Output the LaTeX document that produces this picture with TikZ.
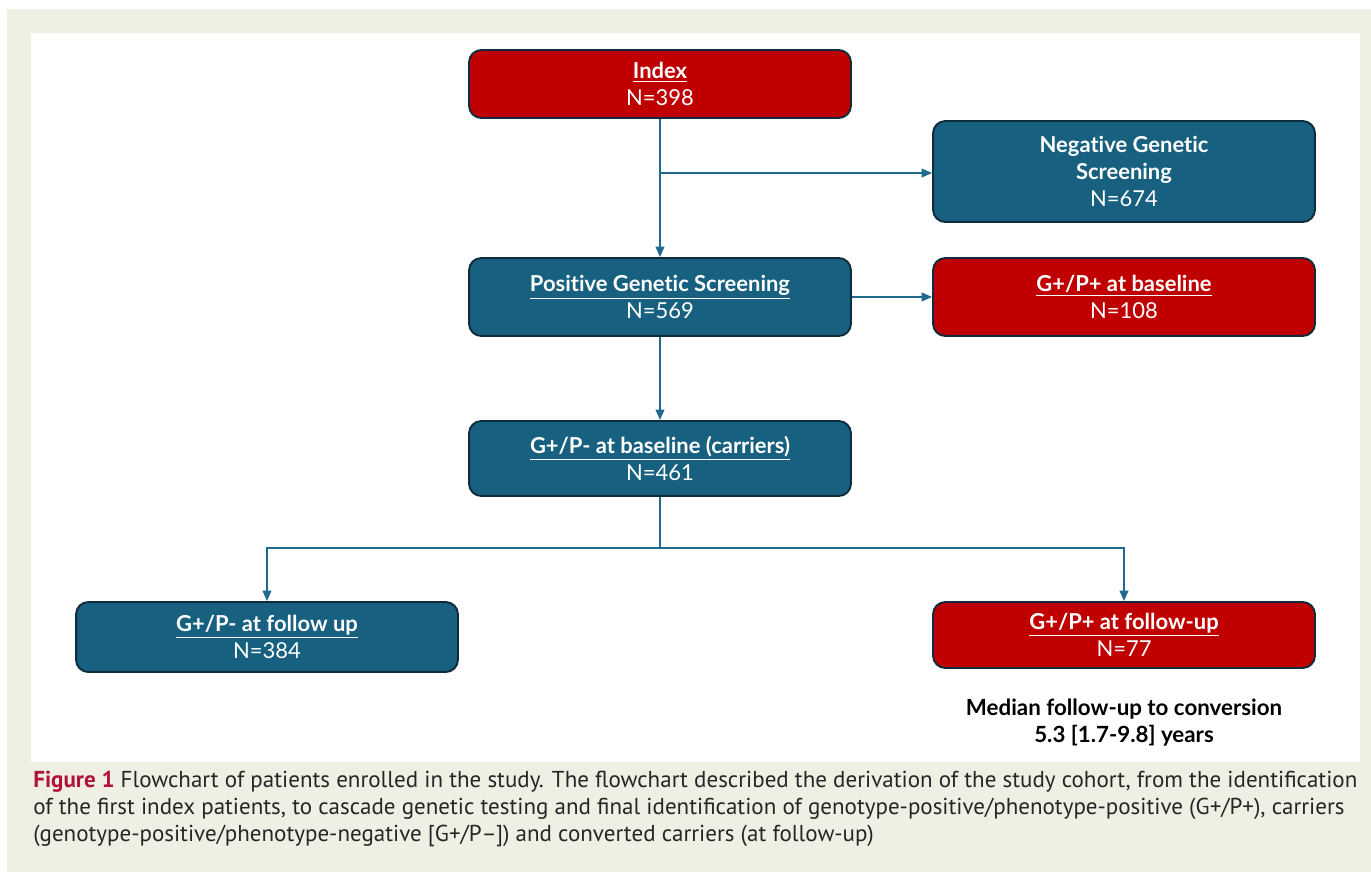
\documentclass[tikz,border=0pt]{standalone}
\usepackage{fontspec}
\setmainfont{Lato}[Ligatures=NoCommon]
\newfontfamily\capfont{PT Sans}
\usetikzlibrary{arrows.meta, positioning}
\definecolor{boxblue}{HTML}{17607F}
\definecolor{boxred}{HTML}{C00000}
\definecolor{boxline}{HTML}{0E2C3C}
\definecolor{linkblue}{HTML}{1F6A8E}
\definecolor{pagebeige}{HTML}{EFEFE3}
\definecolor{figred}{HTML}{B0123A}
\tikzset{
  box/.style={draw=boxline, line width=1.1pt, rounded corners=7pt, text=white,
    minimum width=7.64cm, align=center, font=\fontsize{12.5}{15.4}\selectfont},
  bluebox/.style={box, fill=boxblue},
  redbox/.style={box, fill=boxred},
  link/.style={draw=linkblue, line width=1.1pt, -{Triangle[length=6pt,width=5pt]}},
}
\begin{document}
\begin{tikzpicture}[x=0.02cm, y=-0.02cm]
\useasboundingbox (0,0) rectangle (1371,872);
\fill[pagebeige] (7,9) rectangle (1371,872);
\fill[white] (31,33) rectangle (1360,762);
% boxes
\node[redbox, minimum height=1.36cm] (index) at (660,84) {\textbf{\underline{Index}}\\N=398};
\node[bluebox, minimum height=2.02cm] (neg) at (1124,171.5) {\textbf{Negative Genetic}\\\textbf{Screening}\\N=674};
\node[bluebox, minimum height=1.56cm] (pos) at (660,297) {\textbf{\underline{Positive Genetic Screening}}\\N=569};
\node[redbox, minimum height=1.56cm] (basepos) at (1124,297) {\textbf{\underline{G+/P+ at baseline}}\\N=108};
\node[bluebox, minimum height=1.5cm] (carrier) at (660,458.5) {\textbf{\underline{G+/P- at baseline (carriers)}}\\N=461};
\node[bluebox, minimum height=1.4cm] (fupneg) at (267,637) {\textbf{\underline{G+/P- at follow up}}\\N=384};
\node[redbox, minimum height=1.32cm] (fuppos) at (1124,635) {\textbf{\underline{G+/P+ at follow-up}}\\N=77};
\node[align=center, font=\fontsize{12.7}{15.4}\selectfont\bfseries] (median) at (1124,723)
  {Median follow-up to conversion\\5.3 [1.7-9.8] years};
% connectors
\coordinate (split) at (660,173);
\coordinate (fork) at (660,548);
\draw[link] (index) -- (pos);
\draw[link] (split) -- (neg.west |- split);
\draw[link] (pos) -- (basepos);
\draw[link] (pos) -- (carrier);
\draw[draw=linkblue, line width=1.1pt] (carrier) -- (fork);
\draw[link] (fork) -| (fupneg);
\draw[link] (fork) -| (fuppos);
% caption
\node[anchor=north west, align=left, inner sep=0pt, text=black!85,
  font=\capfont\fontsize{13.1}{15.4}\selectfont] (caption) at (33,771)
  {{\color{figred}\bfseries Figure 1} Flowchart of patients enrolled in the study. The flowchart described the derivation of the study cohort, from the identification\\
   of the first index patients, to cascade genetic testing and final identification of genotype-positive/phenotype-positive (G+/P+), carriers\\
   (genotype-positive/phenotype-negative [G+/P–]) and converted carriers (at follow-up)};
\end{tikzpicture}
\end{document}
